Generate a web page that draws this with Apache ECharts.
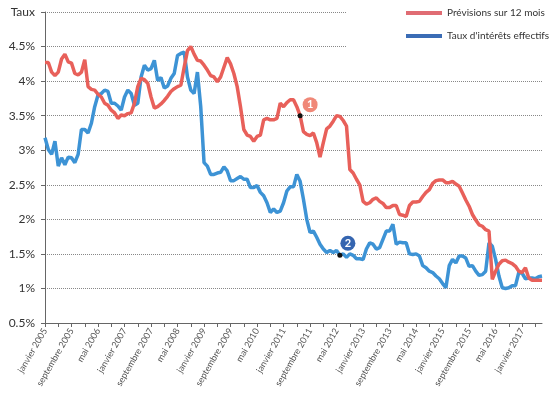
<!DOCTYPE html>
<html lang="fr">
<head>
    <meta charset="UTF-8">
    <title>Taux</title>
    <style>
        html, body { margin: 0; padding: 0; background: #fff; }
    </style>
</head>
<body>
<div id="main" style="width:550px; height: 400px"></div>

<script src="https://cdn.jsdelivr.net/npm/echarts@6/dist/echarts.min.js"></script>
<script>
    // mois et années de l'axe
    var moisNoms = ['janvier', 'février', 'mars', 'avril', 'mai', 'juin', 'juillet',
        'août', 'septembre', 'octobre', 'novembre', 'décembre'];
    var annees = [2005, 2006, 2007, 2008, 2009, 2010, 2011, 2012, 2013, 2014, 2015, 2016, 2017];
    var dernierMois = 6; // juillet 2017

    // Prévisions sur 12 mois (%)
    var previsions = [
        4.27, 4.27, 4.13, 4.08, 4.13, 4.32, 4.39, 4.28, 4.26, 4.11, 4.09, 4.13,
        4.31, 3.92, 3.88, 3.87, 3.81, 3.77, 3.68, 3.65, 3.58, 3.54, 3.46, 3.51,
        3.50, 3.53, 3.54, 3.68, 3.92, 4.04, 4.02, 3.97, 3.77, 3.61, 3.63, 3.67,
        3.72, 3.78, 3.85, 3.89, 3.92, 3.94, 4.20, 4.44, 4.50, 4.39, 4.30, 4.29,
        4.23, 4.16, 4.08, 4.06, 3.99, 4.06, 4.20, 4.34, 4.25, 4.11, 3.92, 3.63,
        3.30, 3.22, 3.20, 3.13, 3.20, 3.22, 3.44, 3.46, 3.44, 3.44, 3.46, 3.68,
        3.63, 3.69, 3.73, 3.73, 3.63, 3.50, 3.27, 3.23, 3.21, 3.25, 3.11, 2.90,
        3.11, 3.31, 3.35, 3.42, 3.50, 3.49, 3.43, 3.35, 2.72, 2.67, 2.58, 2.50,
        2.26, 2.22, 2.24, 2.29, 2.31, 2.26, 2.23, 2.17, 2.17, 2.20, 2.20, 2.07,
        2.06, 2.04, 2.20, 2.25, 2.25, 2.26, 2.33, 2.39, 2.43, 2.52, 2.56, 2.57,
        2.57, 2.53, 2.53, 2.55, 2.51, 2.48, 2.38, 2.28, 2.19, 2.07, 1.99, 1.92,
        1.90, 1.85, 1.83, 1.13, 1.25, 1.35, 1.40, 1.41, 1.38, 1.36, 1.32, 1.25,
        1.23, 1.30, 1.15, 1.12, 1.12, 1.12, 1.12
    ];

    // Taux d'intérêts effectifs (%)
    var effectifs = [
        3.18, 3.01, 2.94, 3.13, 2.77, 2.89, 2.79, 2.90, 2.89, 2.82, 2.94, 3.30,
        3.30, 3.25, 3.39, 3.63, 3.80, 3.82, 3.87, 3.85, 3.68, 3.68, 3.64, 3.58,
        3.77, 3.87, 3.82, 3.65, 3.68, 4.06, 4.23, 4.16, 4.18, 4.30, 4.01, 4.05,
        3.90, 3.93, 4.04, 4.11, 4.37, 4.40, 4.42, 4.06, 3.87, 3.82, 4.13, 3.63,
        2.82, 2.77, 2.65, 2.65, 2.67, 2.68, 2.76, 2.70, 2.56, 2.56, 2.59, 2.62,
        2.58, 2.58, 2.46, 2.46, 2.49, 2.39, 2.34, 2.24, 2.10, 2.15, 2.10, 2.12,
        2.24, 2.41, 2.47, 2.47, 2.65, 2.55, 2.29, 2.00, 1.81, 1.83, 1.74, 1.64,
        1.57, 1.52, 1.55, 1.52, 1.55, 1.48, 1.50, 1.45, 1.50, 1.48, 1.43, 1.43,
        1.42, 1.57, 1.66, 1.64, 1.57, 1.59, 1.71, 1.83, 1.83, 1.93, 1.64, 1.67,
        1.66, 1.66, 1.50, 1.49, 1.50, 1.47, 1.33, 1.30, 1.25, 1.23, 1.18, 1.14,
        1.07, 1.01, 1.33, 1.42, 1.37, 1.47, 1.47, 1.44, 1.32, 1.33, 1.25, 1.19,
        1.20, 1.25, 1.66, 1.61, 1.42, 1.18, 1.01, 1.00, 1.01, 1.04, 1.04, 1.23,
        1.22, 1.14, 1.15, 1.15, 1.14, 1.17, 1.18
    ];

    // repères numérotés
    var repere1 = { mois: 'juin 2011', num: '1' };
    var repere2 = { mois: 'juin 2012', num: '2' };

    var mois = [];
    annees.forEach(function (a, i) {
        moisNoms.forEach(function (m, j) {
            if (i === annees.length - 1 && j > dernierMois) return;
            mois.push(m + ' ' + a);
        });
    });

    var rouge = '#e8605a', bleu = '#3d93d5';
    var police = 'Lato, "DejaVu Sans", sans-serif';

    function repere(r, val, couleur, offset) {
        return {
            data: [
                { coord: [r.mois, val], symbol: 'circle', symbolSize: 5,
                  itemStyle: { color: '#111' }, label: { show: false } },
                { coord: [r.mois, val], symbol: 'circle', symbolSize: 15, symbolOffset: offset,
                  itemStyle: { color: couleur },
                  label: { show: true, position: 'inside', formatter: r.num, color: '#fff',
                           fontWeight: 'bold', fontSize: 11, fontFamily: police } }
            ],
            silent: true,
            animation: false
        };
    }

    var myChart = echarts.init(document.getElementById('main'));
    var option = {
        animation: false,
        grid: {             // zone de tracé
            left: 45, right: 8, top: 12, bottom: 77
        },
        legend: {
            orient: 'vertical',
            left: 347, top: 0,
            padding: [6, 10, 12, 59],
            backgroundColor: '#fff',
            itemWidth: 36, itemHeight: 4, itemGap: 9,
            icon: 'rect',
            textStyle: { fontSize: 10, color: '#333', fontFamily: police, lineHeight: 14 },
            data: [
                { name: 'Prévisions sur 12 mois', itemStyle: { color: '#e06c73' } },
                { name: "Taux d'intérêts effectifs", itemStyle: { color: '#3a6cb5' } }
            ],
            z: 5
        },
        xAxis: {
            type: 'category',
            boundaryGap: false,
            data: mois,
            axisLine: { lineStyle: { color: '#666', width: 1 } },
            axisTick: { interval: 3, length: 4, lineStyle: { color: '#666' } },
            axisLabel: { interval: 7, rotate: 60, fontSize: 9, color: '#555', fontFamily: police, margin: 6 },
            splitLine: { show: false }
        },
        yAxis: {
            type: 'value',
            min: 0.5, max: 5, interval: 0.5,
            axisLine: { show: true, lineStyle: { color: '#666', width: 1 } },
            axisTick: { show: true, length: 4, lineStyle: { color: '#666' } },
            axisLabel: {
                fontSize: 12, color: '#333', fontFamily: police, margin: 10,
                formatter: function (v) { return v === 5 ? 'Taux' : v + '%'; }
            },
            splitLine: { lineStyle: { color: '#888', width: 1, type: 'dotted' } }
        },
        series: [
            {
                name: 'Prévisions sur 12 mois',
                type: 'line',
                data: previsions,
                showSymbol: false,
                lineStyle: { color: rouge, width: 3.5 },
                itemStyle: { color: rouge },
                z: 3,
                markPoint: repere(repere1, previsions[mois.indexOf(repere1.mois)], '#f08878', [10, -11])
            },
            {
                name: "Taux d'intérêts effectifs",
                type: 'line',
                data: effectifs,
                showSymbol: false,
                lineStyle: { color: bleu, width: 3.5 },
                itemStyle: { color: bleu },
                z: 2,
                markPoint: repere(repere2, effectifs[mois.indexOf(repere2.mois)], '#3565b0', [8, -12])
            }
        ]
    };
    myChart.setOption(option);
</script>
</body>
</html>
